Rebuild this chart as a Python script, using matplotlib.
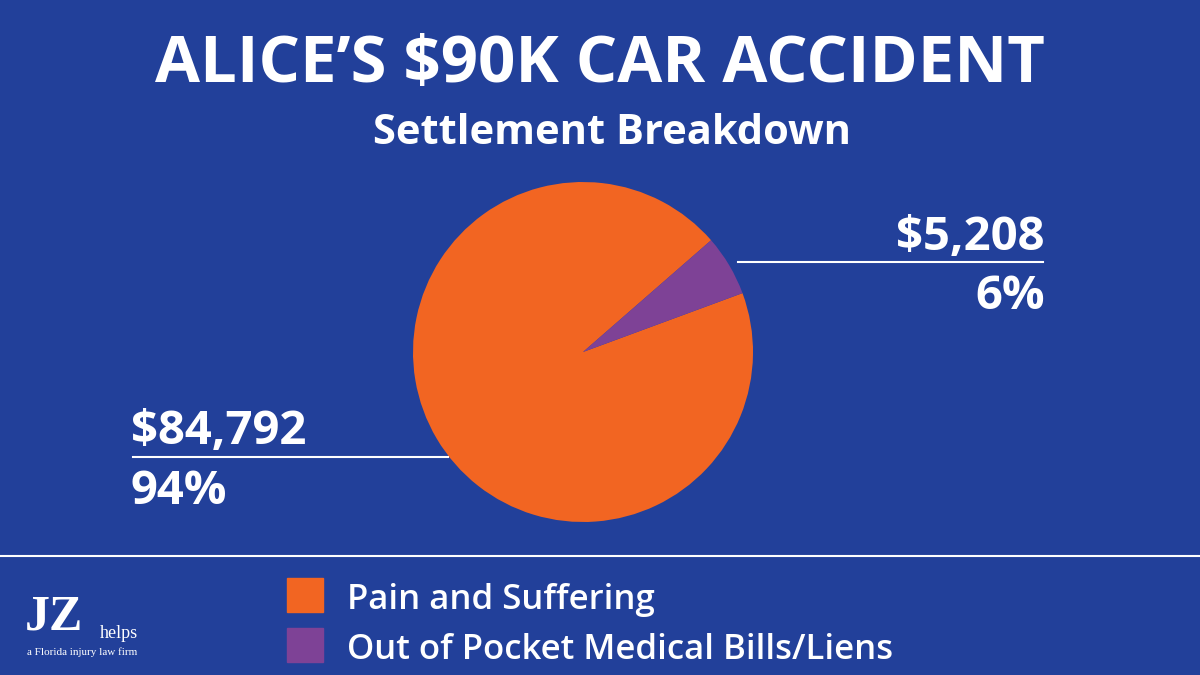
import matplotlib
matplotlib.use("Agg")
import matplotlib.pyplot as plt
from matplotlib.patches import Rectangle

labels = ["Pain and Suffering", "Out of Pocket Medical Bills/Liens"]
values = [84792, 5208]
pcts = ["94%", "6%"]
amounts = ["$84,792", "$5,208"]
colors = ["#F26522", "#7E4296"]
bg = "#22409A"

W, H = 1200, 675
fig = plt.figure(figsize=(12, 6.75), dpi=100, facecolor=bg)
def px(x, y):
    return x / W, 1 - y / H

ax = fig.add_axes([413 / W, (H - 522) / H, 340 / W, 340 / H])
ax.pie(values, colors=colors, startangle=41.1, counterclock=True,
       wedgeprops=dict(linewidth=0))
ax.set_xlim(-1, 1)
ax.set_ylim(-1, 1)
ax.set_aspect("equal")
ax.axis("off")

font = "Open Sans"
fig.text(*px(600, 66), "ALICE’S $90K CAR ACCIDENT", ha="center", va="center",
         color="white", fontsize=47, fontweight="bold", family=font)
fig.text(*px(612, 133), "Settlement Breakdown", ha="center", va="center",
         color="white", fontsize=30, fontweight="bold", family=font)

fs = 34
fig.text(*px(1045, 237), amounts[1], ha="right", va="center", color="white",
         fontsize=fs, fontweight="bold", family=font)
fig.text(*px(1045, 297), pcts[1], ha="right", va="center", color="white",
         fontsize=fs, fontweight="bold", family=font)
fig.add_artist(plt.Line2D([738 / W, 1043 / W], [1 - 262 / H] * 2, color="white", lw=1.5))
fig.text(*px(131, 432), amounts[0], ha="left", va="center", color="white",
         fontsize=fs, fontweight="bold", family=font)
fig.text(*px(131, 492), pcts[0], ha="left", va="center", color="white",
         fontsize=fs, fontweight="bold", family=font)
fig.add_artist(plt.Line2D([133 / W, 448 / W], [1 - 457 / H] * 2, color="white", lw=1.5))

fig.add_artist(plt.Line2D([0, 1], [1 - 556 / H] * 2, color="white", lw=1.5))

for i, (lab, c) in enumerate(zip(labels, colors)):
    y = 578 + i * 50
    fig.add_artist(Rectangle((287 / W, 1 - (y + 34) / H), 36 / W, 34 / H,
                             color=c, transform=fig.transFigure))
    fig.text(*px(347, y + 22), lab, ha="left", va="center", color="white",
             fontsize=25, family=font, fontweight="semibold")

fig.text(*px(25, 618), "JZ", ha="left", va="center", color="white",
         fontsize=36, fontweight="bold", family="Liberation Serif")
fig.text(*px(100, 633), "helps", ha="left", va="center", color="white",
         fontsize=13, family="Liberation Serif")
fig.text(*px(27, 652), "a Florida injury law firm", ha="left", va="center",
         color="white", fontsize=8, family="Liberation Serif")

fig.savefig("out.png", dpi=100, facecolor=bg)
